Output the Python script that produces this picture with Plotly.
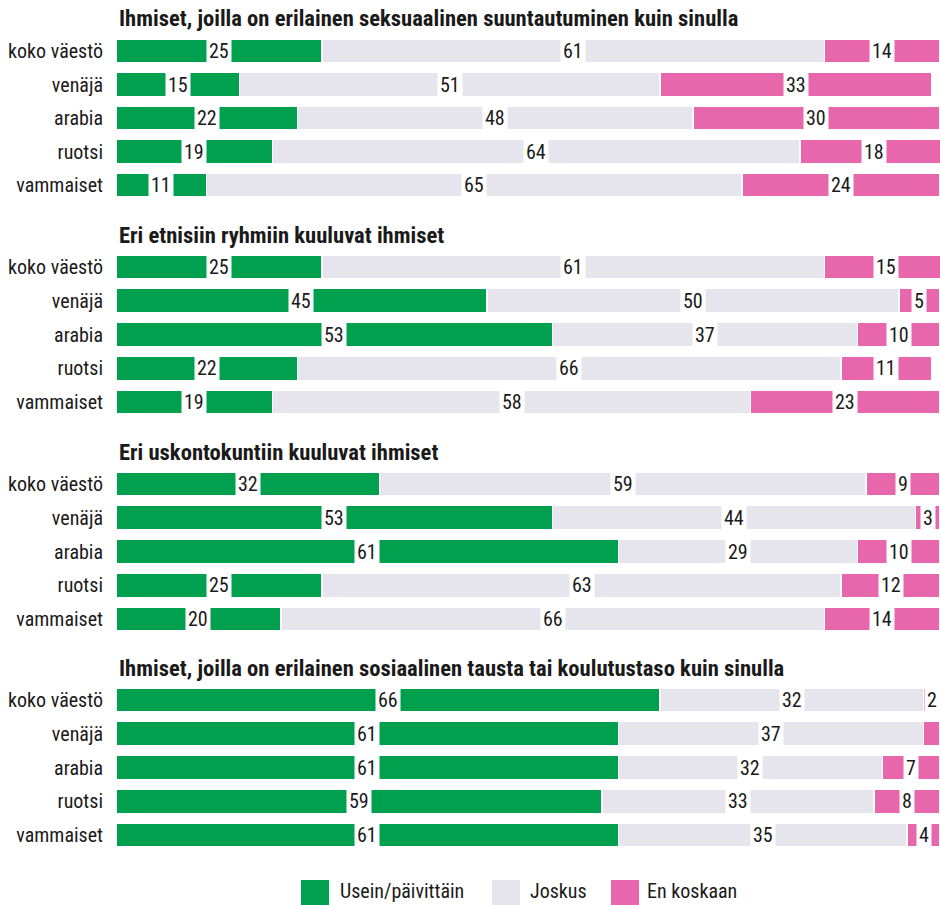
import plotly.graph_objects as go
from plotly.subplots import make_subplots

# ---------------- data ----------------
titles = [
    "Ihmiset, joilla on erilainen seksuaalinen suuntautuminen kuin sinulla",
    "Eri etnisiin ryhmiin kuuluvat ihmiset",
    "Eri uskontokuntiin kuuluvat ihmiset",
    "Ihmiset, joilla on erilainen sosiaalinen tausta tai koulutustaso kuin sinulla",
]
groups = ["koko väestö", "venäjä", "arabia", "ruotsi", "vammaiset"]
series_names = ["Usein/päivittäin", "Joskus", "En koskaan"]

usein = [[25, 15, 22, 19, 11], [25, 45, 53, 22, 19], [32, 53, 61, 25, 20], [66, 61, 61, 59, 61]]
joskus = [[61, 51, 48, 64, 65], [61, 50, 37, 66, 58], [59, 44, 29, 63, 66], [32, 37, 32, 33, 35]]
en_koskaan = [[14, 33, 30, 18, 24], [15, 5, 10, 11, 23], [9, 3, 10, 12, 14], [2, 2, 7, 8, 4]]
# labels not printed in the original (panel, series, row)
hidden_labels = {(3, 2, 1)}

# ---------------- style ----------------
colors = ["#00A04F", "#E6E4EC", "#E766AC"]
FONT = "Roboto Condensed, Liberation Sans Narrow, sans-serif"
FS = 20
FS_TITLE = 22.6
W, H = 940, 905
L = 116
R = 0
PW = W - L - R


def py(win_y):
    return 1 - win_y / H


def px(win_x):
    return (win_x - L) / PW


panel_rows_px = [(34.25, 201.75), (250.25, 418.75), (467.25, 635.75), (683.25, 851.75)]
title_px = [18, 235, 452, 668]

fig = make_subplots(rows=4, cols=1)
series = [usein, joskus, en_koskaan]
annotations = []
for p in range(4):
    xa = "x" if p == 0 else f"x{p+1}"
    ya = "y" if p == 0 else f"y{p+1}"
    for s in range(3):
        vals = series[s][p]
        fig.add_trace(
            go.Bar(
                y=groups, x=vals, orientation="h", name=series_names[s],
                marker=dict(color=colors[s], line=dict(color="white", width=1.5)),
                width=0.72, showlegend=False, hoverinfo="x+y",
            ),
            row=p + 1, col=1,
        )
    # value labels centred on each segment
    for r in range(5):
        base = 0
        for s in range(3):
            v = series[s][p][r]
            if (p, s, r) not in hidden_labels:
                annotations.append(dict(
                    x=base + v / 2, y=groups[r], xref=xa, yref=ya,
                    text=str(v), showarrow=False, bgcolor="white", borderpad=2,
                    font=dict(family=FONT, size=FS, color="#1a1a1a"),
                    xanchor="center", yanchor="middle",
                ))
            base += v
    # panel title
    annotations.append(dict(
        x=px(118), y=py(title_px[p]), xref="paper", yref="paper",
        text=f"<b>{titles[p]}</b>", showarrow=False, xanchor="left", yanchor="middle",
        borderpad=0,
        font=dict(family=FONT, size=FS_TITLE, color="#1a1a1a"),
    ))

# axes
for p in range(4):
    top, bot = panel_rows_px[p]
    fig.update_yaxes(
        domain=[py(bot), py(top)], autorange="reversed", showgrid=False,
        zeroline=False, showline=False, ticks="", ticklabelstandoff=12, automargin=False,
        tickfont=dict(family=FONT, size=FS, color="#1a1a1a"),
        row=p + 1, col=1,
    )
    fig.update_xaxes(
        range=[0, 100], showgrid=False, zeroline=False, showline=False, automargin=False,
        showticklabels=False, ticks="", row=p + 1, col=1,
    )

# custom legend
legend_items = [(301, 338), (492, 528), (611, 645)]
shapes = []
for s, (sx, tx) in enumerate(legend_items):
    shapes.append(dict(
        type="rect", xref="paper", yref="paper",
        x0=px(sx), x1=px(sx + 28), y0=0, y1=py(880),
        fillcolor=colors[s], line=dict(width=0),
    ))
    annotations.append(dict(
        x=px(tx), y=py(891), xref="paper", yref="paper",
        text=series_names[s], showarrow=False, xanchor="left", yanchor="middle",
        font=dict(family=FONT, size=FS, color="#1a1a1a"),
    ))

fig.update_layout(
    width=W, height=H, barmode="stack", bargap=0.3,
    margin=dict(l=L, r=R, t=0, b=0),
    plot_bgcolor="white", paper_bgcolor="white",
    annotations=annotations, shapes=shapes, showlegend=False,
    font=dict(family=FONT, size=FS, color="#1a1a1a"),
)

page_js = (
    "document.body.style.margin='0';"
    "document.body.style.overflow='hidden';"
    "document.documentElement.style.overflow='hidden';"
)
fig.write_html("out.html", post_script=page_js, config={"displayModeBar": False})
